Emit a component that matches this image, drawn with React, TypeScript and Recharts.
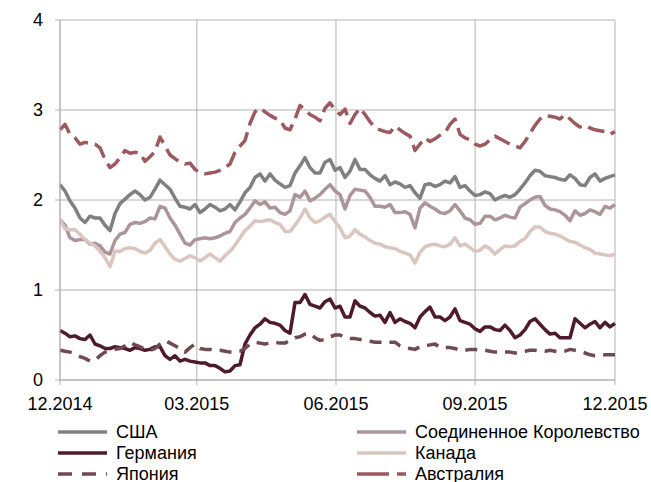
import React from 'react';
import { LineChart, Line, XAxis, YAxis, CartesianGrid } from 'recharts';

// x axis: days since 1 Dec 2014
const tickDays = [0, 90, 181.5, 273, 365];
const tickLabels = ['12.2014', '03.2015', '06.2015', '09.2015', '12.2015'];
const yTicks = [0, 1, 2, 3, 4];

const usa = [
  2.17, 2.10, 1.99, 1.91, 1.80, 1.75, 1.82, 1.80, 1.80, 1.72,
  1.66, 1.85, 1.96, 2.01, 2.06, 2.10, 2.06, 2.00, 2.03, 2.12,
  2.22, 2.17, 2.12, 2.02, 1.93, 1.92, 1.90, 1.95, 1.86, 1.90,
  1.95, 1.92, 1.88, 1.90, 1.95, 1.89, 1.98, 2.08, 2.14, 2.25,
  2.29, 2.21, 2.29, 2.22, 2.18, 2.14, 2.16, 2.30, 2.38, 2.47,
  2.36, 2.30, 2.30, 2.42, 2.45, 2.33, 2.36, 2.25, 2.32, 2.45,
  2.34, 2.34, 2.28, 2.24, 2.21, 2.27, 2.17, 2.20, 2.18, 2.14,
  2.16, 2.08, 2.02, 2.17, 2.18, 2.15, 2.17, 2.21, 2.19, 2.26,
  2.14, 2.16, 2.10, 2.05, 2.06, 2.09, 2.07, 2.00, 2.03, 2.05,
  2.03, 2.06, 2.12, 2.19, 2.27, 2.33, 2.32, 2.27, 2.26, 2.25,
  2.23, 2.22, 2.28, 2.24, 2.17, 2.16, 2.25, 2.29, 2.21, 2.24,
  2.26, 2.28,
];

const uk = [
  1.78, 1.72, 1.58, 1.55, 1.56, 1.56, 1.51, 1.52, 1.49, 1.42,
  1.40, 1.55, 1.62, 1.64, 1.73, 1.75, 1.74, 1.76, 1.80, 1.79,
  1.93, 1.91, 1.80, 1.72, 1.62, 1.52, 1.50, 1.56, 1.57, 1.58,
  1.57, 1.58, 1.60, 1.63, 1.65, 1.75, 1.80, 1.84, 1.91, 1.99,
  1.95, 1.98, 1.91, 1.92, 1.86, 1.84, 1.88, 2.06, 2.03, 2.10,
  1.99, 2.02, 2.06, 2.12, 2.17, 2.10, 2.06, 1.90, 2.05, 2.12,
  2.11, 2.10, 2.03, 1.93, 1.93, 1.92, 1.95, 1.86, 1.86, 1.87,
  1.84, 1.69, 1.91, 1.97, 1.93, 1.90, 1.86, 1.85, 1.88, 1.95,
  1.88, 1.80, 1.78, 1.73, 1.74, 1.82, 1.82, 1.78, 1.80, 1.83,
  1.81, 1.80, 1.92, 1.96, 2.00, 2.03, 2.04, 1.94, 1.90, 1.89,
  1.87, 1.83, 1.77, 1.88, 1.83, 1.85, 1.89, 1.87, 1.84, 1.93,
  1.91, 1.95,
];

const canada = [
  1.78, 1.68, 1.67, 1.67, 1.62, 1.56, 1.52, 1.49, 1.43, 1.36,
  1.26, 1.43, 1.43, 1.46, 1.47, 1.46, 1.43, 1.41, 1.44, 1.52,
  1.56, 1.48, 1.40, 1.34, 1.32, 1.35, 1.38, 1.36, 1.32, 1.36,
  1.40, 1.36, 1.32, 1.38, 1.43, 1.50, 1.58, 1.66, 1.71, 1.77,
  1.76, 1.77, 1.78, 1.75, 1.73, 1.65, 1.65, 1.72, 1.80, 1.90,
  1.80, 1.75, 1.77, 1.81, 1.84, 1.76, 1.69, 1.58, 1.60, 1.67,
  1.62, 1.59, 1.55, 1.52, 1.51, 1.48, 1.47, 1.46, 1.43, 1.41,
  1.39, 1.30, 1.42, 1.48, 1.50, 1.51, 1.49, 1.48, 1.51, 1.58,
  1.49, 1.51, 1.47, 1.43, 1.44, 1.49, 1.46, 1.40, 1.45, 1.49,
  1.48, 1.49, 1.54, 1.57, 1.65, 1.70, 1.70, 1.65, 1.63, 1.62,
  1.60, 1.57, 1.54, 1.53, 1.50, 1.47, 1.45, 1.41, 1.40, 1.39,
  1.38, 1.40,
];

const australia = [
  2.78, 2.84, 2.73, 2.69, 2.62, 2.64, 2.63, 2.62, 2.58, 2.45,
  2.36, 2.40, 2.47, 2.55, 2.52, 2.53, 2.52, 2.43, 2.48, 2.54,
  2.70, 2.60, 2.50, 2.46, 2.42, 2.40, 2.41, 2.34, 2.30, 2.29,
  2.30, 2.31, 2.33, 2.36, 2.40, 2.53, 2.60, 2.66, 2.85, 2.98,
  3.02, 2.98, 2.94, 2.91, 2.89, 2.80, 2.78, 2.90, 3.05, 3.00,
  2.95, 2.92, 2.88, 3.02, 3.08, 3.00, 2.95, 3.01, 2.85, 2.95,
  3.02, 2.95, 2.87, 2.80, 2.78, 2.76, 2.75, 2.82, 2.78, 2.74,
  2.71, 2.55, 2.62, 2.69, 2.65, 2.68, 2.72, 2.75, 2.84, 2.90,
  2.73, 2.69, 2.67, 2.62, 2.60, 2.62, 2.67, 2.71, 2.68, 2.65,
  2.62, 2.60, 2.58, 2.65, 2.74, 2.83, 2.90, 2.94, 2.93, 2.92,
  2.90, 2.95, 2.90, 2.85, 2.81, 2.83, 2.80, 2.78, 2.77, 2.76,
  2.73, 2.76,
];

const germany = [
  0.55, 0.52, 0.48, 0.49, 0.46, 0.45, 0.50, 0.40, 0.38, 0.35,
  0.35, 0.37, 0.36, 0.35, 0.33, 0.36, 0.35, 0.33, 0.34, 0.37,
  0.37, 0.27, 0.23, 0.27, 0.21, 0.23, 0.21, 0.20, 0.19, 0.19,
  0.16, 0.16, 0.13, 0.09, 0.10, 0.16, 0.17, 0.40, 0.50, 0.58,
  0.62, 0.68, 0.64, 0.63, 0.61, 0.55, 0.52, 0.86, 0.86, 0.95,
  0.84, 0.82, 0.80, 0.87, 0.90, 0.80, 0.82, 0.70, 0.70, 0.88,
  0.82, 0.80, 0.75, 0.71, 0.72, 0.64, 0.75, 0.64, 0.68, 0.65,
  0.63, 0.58, 0.70, 0.76, 0.81, 0.70, 0.70, 0.66, 0.70, 0.79,
  0.66, 0.64, 0.62, 0.57, 0.54, 0.59, 0.59, 0.56, 0.55, 0.61,
  0.55, 0.47, 0.50, 0.56, 0.65, 0.68, 0.62, 0.56, 0.51, 0.52,
  0.47, 0.47, 0.47, 0.68, 0.63, 0.58, 0.62, 0.65, 0.58, 0.64,
  0.59, 0.63,
];

const japan = [
  0.33, 0.32, 0.31, 0.29, 0.26, 0.24, 0.21, 0.22, 0.27, 0.31,
  0.32, 0.34, 0.35, 0.38, 0.42, 0.39, 0.37, 0.34, 0.33, 0.35,
  0.40, 0.44, 0.41, 0.38, 0.35, 0.31, 0.36, 0.40, 0.35, 0.34,
  0.34, 0.33, 0.33, 0.32, 0.31, 0.31, 0.32, 0.35, 0.40, 0.42,
  0.41, 0.40, 0.41, 0.42, 0.41, 0.41, 0.44, 0.47, 0.48, 0.51,
  0.52, 0.47, 0.44, 0.45, 0.48, 0.50, 0.50, 0.47, 0.46, 0.46,
  0.45, 0.44, 0.43, 0.42, 0.42, 0.42, 0.42, 0.42, 0.38, 0.36,
  0.35, 0.34, 0.37, 0.38, 0.39, 0.40, 0.36, 0.36, 0.36, 0.35,
  0.33, 0.33, 0.34, 0.34, 0.33, 0.33, 0.32, 0.31, 0.31, 0.31,
  0.31, 0.30, 0.31, 0.32, 0.33, 0.33, 0.32, 0.32, 0.33, 0.32,
  0.31, 0.32, 0.34, 0.33, 0.32, 0.30, 0.28, 0.27, 0.27, 0.28,
  0.28, 0.28,
];

const FONT = '"Liberation Sans", Arial, Helvetica, sans-serif';
const FONT_SIZE = 18;
const GRID = '#b6b0b3';

const seriesList = [
  { key: 'usa', name: 'США', color: '#808080', dash: undefined as string | undefined, legendDash: undefined as string | undefined, values: usa },
  { key: 'uk', name: 'Соединенное Королевство', color: '#ab959a', dash: undefined, legendDash: undefined, values: uk },
  { key: 'germany', name: 'Германия', color: '#4e1a2c', dash: undefined, legendDash: undefined, values: germany },
  { key: 'canada', name: 'Канада', color: '#dac6bf', dash: undefined, legendDash: undefined, values: canada },
  { key: 'japan', name: 'Япония', color: '#6f4a50', dash: '12 8', legendDash: '14 10', values: japan },
  { key: 'australia', name: 'Австралия', color: '#9c5a60', dash: '17 7', legendDash: '32 8', values: australia },
];

const chartData = usa.map((_, i) => {
  const row: Record<string, number> = { day: (i * 365) / (usa.length - 1) };
  seriesList.forEach((s) => {
    row[s.key] = s.values[i];
  });
  return row;
});

function LegendBlock() {
  // two columns, three rows, like the original
  return (
    <>
      {seriesList.map((s, i) => {
        const col = i % 2;
        const row = Math.floor(i / 2);
        const left = col === 0 ? 58 : 357;
        const top = 421 + row * 21;
        return (
          <div
            key={s.key}
            style={{
              position: 'absolute',
              left,
              top,
              height: 22,
              display: 'flex',
              alignItems: 'center',
              fontFamily: FONT,
              fontSize: FONT_SIZE,
              color: '#000',
              whiteSpace: 'nowrap',
            }}
          >
            <svg width={50} height={22} style={{ marginRight: 8 }}>
              <line
                x1={0}
                y1={11}
                x2={49}
                y2={11}
                stroke={s.color}
                strokeWidth={3.5}
                strokeDasharray={s.legendDash}
              />
            </svg>
            <span>{s.name}</span>
          </div>
        );
      })}
    </>
  );
}

export default function App() {
  return (
    <div style={{ position: 'absolute', left: 0, top: 0, width: 651, height: 482, background: '#fff' }}>
      <LineChart
        width={651}
        height={482}
        data={chartData}
        margin={{ top: 20, right: 36, left: 0, bottom: 72 }}
      >
        <CartesianGrid stroke={GRID} strokeWidth={1} />
        <XAxis
          dataKey="day"
          type="number"
          domain={[0, 365]}
          ticks={tickDays}
          interval={0}
          tickFormatter={(v: number) => tickLabels[tickDays.indexOf(v)] ?? ''}
          stroke={GRID}
          tick={{ fill: '#000', fontSize: FONT_SIZE, fontFamily: FONT }}
          tickSize={5}
          tickMargin={12}
          height={30}
        />
        <YAxis
          type="number"
          domain={[0, 4]}
          ticks={yTicks}
          interval={0}
          stroke={GRID}
          tick={{ fill: '#000', fontSize: FONT_SIZE, fontFamily: FONT }}
          tickSize={5}
          tickMargin={12}
          width={60}
        />
        {seriesList.map((s) => (
          <Line
            key={s.key}
            type="linear"
            dataKey={s.key}
            name={s.name}
            stroke={s.color}
            strokeWidth={3.5}
            strokeDasharray={s.dash}
            strokeLinejoin="round"
            dot={false}
            activeDot={false}
            isAnimationActive={false}
          />
        ))}
      </LineChart>
      <LegendBlock />
    </div>
  );
}
